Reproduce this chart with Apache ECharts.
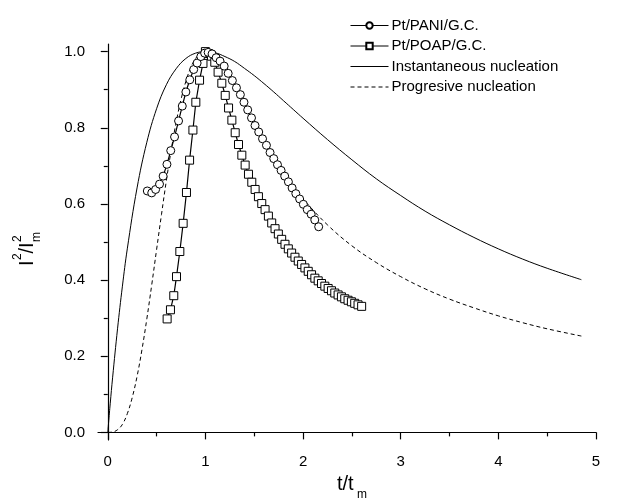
<!DOCTYPE html>
<html>
<head>
<meta charset="utf-8">
<script src="https://cdn.jsdelivr.net/npm/echarts@6/dist/echarts.min.js"></script>
<style>
html,body{margin:0;padding:0;background:#fff;}
#chart{width:617px;height:499px;}
</style>
</head>
<body>
<div id="chart"></div>
<script>
// ---- data ----
const seriesNames = ['Pt/PANI/G.C.', 'Pt/POAP/G.C.', 'Instantaneous nucleation', 'Progresive nucleation'];

const paniT = [0.405,0.450,0.490,0.530,0.567,0.606,0.645,0.684,0.725,0.763,0.800,0.840,0.880,0.915,0.953,0.992,1.028,1.068,1.110,1.150,1.192,1.233,1.276,1.318,1.358,1.395,1.433,1.472,1.508,1.546,1.585,1.625,1.662,1.700,1.738,1.775,1.812,1.850,1.888,1.926,1.965,2.003,2.043,2.083,2.120,2.160];
const paniY = [0.634,0.629,0.638,0.652,0.673,0.704,0.740,0.776,0.818,0.857,0.894,0.926,0.953,0.970,0.987,0.996,0.998,0.994,0.984,0.975,0.962,0.943,0.924,0.905,0.887,0.867,0.847,0.826,0.806,0.789,0.771,0.754,0.735,0.719,0.703,0.688,0.673,0.658,0.642,0.627,0.613,0.599,0.585,0.573,0.558,0.540];

const poapT = [0.608,0.642,0.676,0.704,0.738,0.772,0.806,0.838,0.872,0.902,0.940,0.975,1.000,1.030,1.062,1.096,1.130,1.168,1.203,1.237,1.271,1.305,1.339,1.373,1.407,1.441,1.475,1.509,1.543,1.577,1.611,1.645,1.679,1.713,1.747,1.781,1.815,1.849,1.883,1.917,1.951,1.985,2.019,2.053,2.087,2.121,2.155,2.189,2.223,2.257,2.291,2.325,2.359,2.393,2.427,2.461,2.495,2.529,2.563,2.600];
const poapY = [0.298,0.322,0.359,0.409,0.475,0.549,0.630,0.715,0.794,0.867,0.925,0.969,1.000,0.995,0.988,0.972,0.946,0.917,0.885,0.852,0.820,0.787,0.756,0.728,0.702,0.678,0.657,0.638,0.619,0.601,0.585,0.568,0.550,0.535,0.521,0.507,0.494,0.482,0.471,0.460,0.450,0.441,0.432,0.423,0.414,0.405,0.398,0.391,0.384,0.378,0.372,0.366,0.361,0.356,0.351,0.347,0.343,0.339,0.335,0.331];

const instT = [0,0.025,0.05,0.1,0.15,0.2,0.3,0.4,0.5,0.6,0.7,0.8,0.9,1.0,1.1,1.2,1.3,1.4,1.5,1.6,1.7,1.8,1.9,2.0,2.25,2.5,2.75,3.0,3.25,3.5,3.75,4.0,4.25,4.5,4.85];
const instY = [0,0.075,0.145,0.272,0.384,0.482,0.642,0.762,0.850,0.913,0.955,0.982,0.996,1.000,0.997,0.987,0.974,0.956,0.937,0.916,0.894,0.871,0.848,0.825,0.769,0.716,0.666,0.622,0.581,0.545,0.512,0.482,0.455,0.431,0.401];

const progT = [0,0.05,0.1,0.15,0.2,0.25,0.3,0.35,0.4,0.45,0.5,0.55,0.6,0.65,0.7,0.75,0.8,0.85,0.9,0.95,1.0,1.1,1.2,1.3,1.4,1.5,1.6,1.7,1.8,1.9,2.0,2.25,2.5,2.75,3.0,3.25,3.5,3.75,4.0,4.25,4.5,4.85];
const progY = [0,0.001,0.007,0.021,0.049,0.091,0.147,0.217,0.298,0.387,0.480,0.572,0.661,0.742,0.814,0.874,0.922,0.958,0.982,0.996,1.000,0.986,0.952,0.907,0.857,0.808,0.762,0.719,0.680,0.645,0.613,0.545,0.490,0.446,0.409,0.377,0.350,0.327,0.306,0.288,0.272,0.253];

const xLabelValues = [0,1,2,3,4,5];
const xMinorValues = [0.5,1.5,2.5,3.5,4.5];
const yLabelValues = [0,0.2,0.4,0.6,0.8,1.0];
const yMinorValues = [0.1,0.3,0.5,0.7,0.9];

// ---- chart ----
const pairs = (xs, ys) => xs.map((x, i) => [x, ys[i]]);
const FONT = '"Liberation Sans", Arial, Helvetica, sans-serif';
const chart = echarts.init(document.getElementById('chart'), null, {renderer: 'canvas'});

const xBase = {type: 'value', min: -0.1, max: 5, splitLine: {show: false}, position: 'bottom'};
const yBase = {type: 'value', min: -0.02, max: 1.02, splitLine: {show: false}, position: 'left'};

const option = {
  animation: false,
  backgroundColor: '#fff',
  textStyle: {fontFamily: FONT},
  grid: {left: 98, right: 21, top: 44, bottom: 59, containLabel: false},
  legend: {
    data: [
      {name: seriesNames[0]},
      {name: seriesNames[1]},
      {name: seriesNames[2], itemStyle: {opacity: 0}},
      {name: seriesNames[3], itemStyle: {opacity: 0}}
    ],
    orient: 'vertical',
    left: 345, top: 13,
    itemWidth: 38, itemHeight: 8, itemGap: 5.5,
    lineStyle: {width: 1},
    textStyle: {fontFamily: FONT, fontSize: 15, color: '#000', padding: [0,0,0,-2]},
    inactiveColor: '#000'
  },
  xAxis: [
    Object.assign({}, xBase, {
      axisLine: {show: true, lineStyle: {color: '#000', width: 1.2}},
      axisTick: {show: true, length: 7, customValues: xLabelValues, lineStyle: {color: '#000', width: 1.2}},
      axisLabel: {show: true, customValues: xLabelValues, margin: 14, fontSize: 15, color: '#000', fontFamily: FONT}
    }),
    Object.assign({}, xBase, {
      axisLine: {show: false},
      axisTick: {show: true, length: 4, customValues: xMinorValues, lineStyle: {color: '#000', width: 1.2}},
      axisLabel: {show: false}
    })
  ],
  yAxis: [
    Object.assign({}, yBase, {
      axisLine: {show: true, lineStyle: {color: '#000', width: 1.2}},
      axisTick: {show: true, length: 7, customValues: yLabelValues, lineStyle: {color: '#000', width: 1.2}},
      axisLabel: {show: true, customValues: yLabelValues, margin: 13, fontSize: 15, color: '#000', fontFamily: FONT,
                  formatter: v => v.toFixed(1)}
    }),
    Object.assign({}, yBase, {
      axisLine: {show: false},
      axisTick: {show: true, length: 4, customValues: yMinorValues, lineStyle: {color: '#000', width: 1.2}},
      axisLabel: {show: false}
    })
  ],
  series: [
    {
      name: seriesNames[2], type: 'line', data: pairs(instT, instY), smooth: 0.4,
      showSymbol: false, symbol: 'none', z: 1,
      lineStyle: {color: '#000', width: 1}, itemStyle: {color: '#000'}
    },
    {
      name: seriesNames[3], type: 'line', data: pairs(progT, progY), smooth: 0.4,
      showSymbol: false, symbol: 'none', z: 1,
      lineStyle: {color: '#000', width: 1, type: [4, 3]}, itemStyle: {color: '#000'}
    },
    {
      name: seriesNames[1], type: 'line', data: pairs(poapT, poapY),
      symbol: 'rect', symbolSize: 8, showAllSymbol: true, z: 2,
      lineStyle: {color: '#000', width: 1.2},
      itemStyle: {color: '#fff', borderColor: '#000', borderWidth: 1}
    },
    {
      name: seriesNames[0], type: 'line', data: pairs(paniT, paniY),
      symbol: 'circle', symbolSize: 8, showAllSymbol: true, z: 3,
      lineStyle: {color: '#000', width: 1.2},
      itemStyle: {color: '#fff', borderColor: '#000', borderWidth: 1}
    }
  ],
  graphic: [
    {
      type: 'group', x: 27, y: 266, rotation: Math.PI / 2,
      children: [
        {type: 'text', x: 0, y: 0, style: {text: 'I', font: '20px ' + FONT, fill: '#000', verticalAlign: 'middle', align: 'left'}},
        {type: 'text', x: 6, y: -9, style: {text: '2', font: '12px ' + FONT, fill: '#000', verticalAlign: 'middle', align: 'left'}},
        {type: 'text', x: 12.5, y: 0, style: {text: '/I', font: '20px ' + FONT, fill: '#000', verticalAlign: 'middle', align: 'left'}},
        {type: 'text', x: 24, y: -9, style: {text: '2', font: '12px ' + FONT, fill: '#000', verticalAlign: 'middle', align: 'left'}},
        {type: 'text', x: 24, y: 10, style: {text: 'm', font: '12px ' + FONT, fill: '#000', verticalAlign: 'middle', align: 'left'}}
      ]
    },
    {
      type: 'group', x: 337, y: 484,
      children: [
        {type: 'text', x: 0, y: 0, style: {text: 't/t', font: '20px ' + FONT, fill: '#000', verticalAlign: 'middle', align: 'left'}},
        {type: 'text', x: 20, y: 11, style: {text: 'm', font: '12px ' + FONT, fill: '#000', verticalAlign: 'middle', align: 'left'}}
      ]
    }
  ]
};
chart.setOption(option);
</script>
</body>
</html>
